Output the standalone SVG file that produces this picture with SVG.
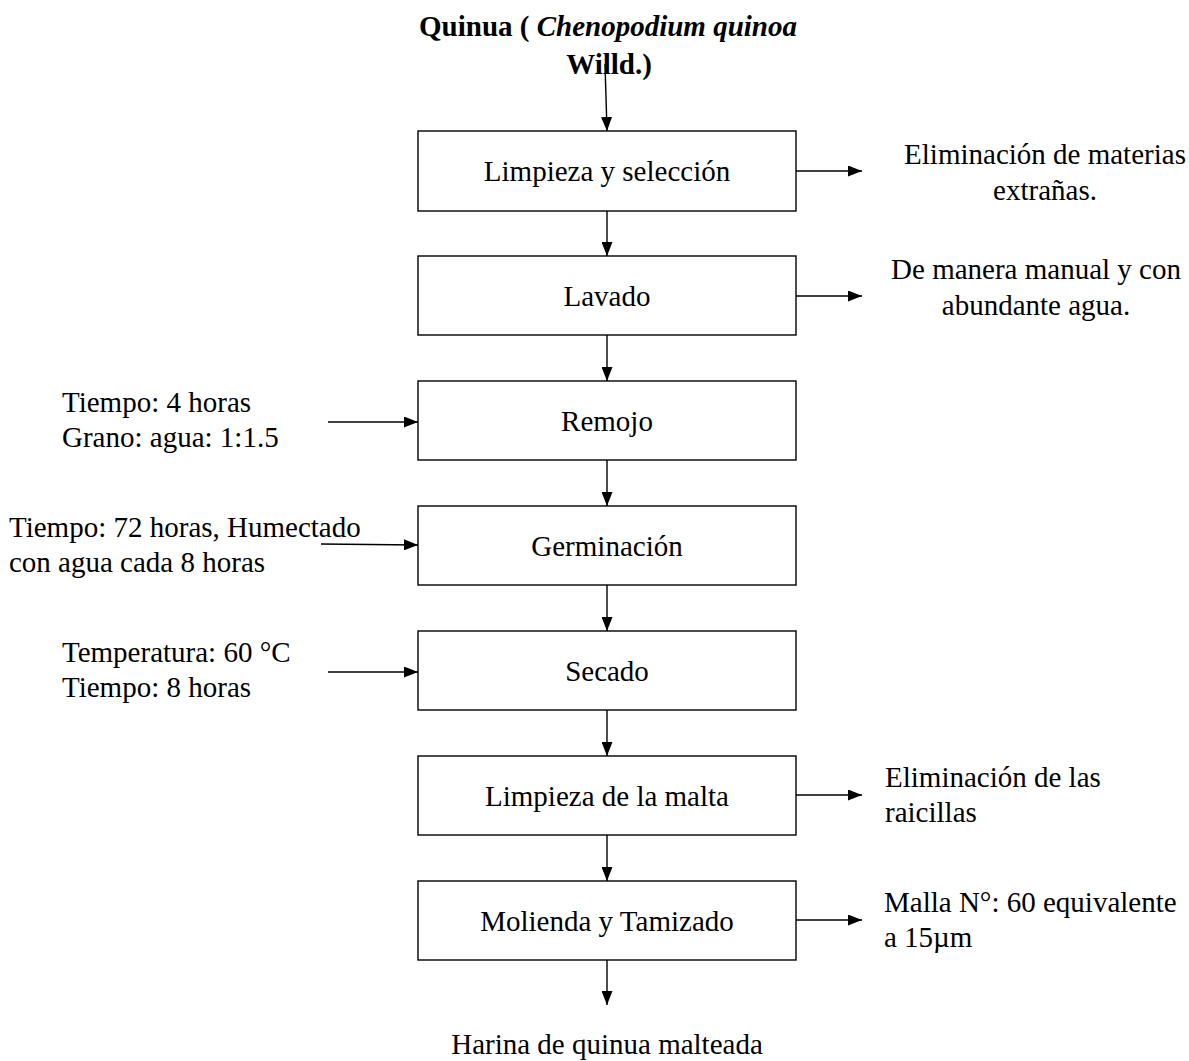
<svg xmlns="http://www.w3.org/2000/svg" width="1189" height="1061" viewBox="0 0 1189 1061">
<style>
  text { font-family: "Liberation Serif", "Times New Roman", serif; font-size: 29px; fill: #000; }
  .c { text-anchor: middle; }
  .t { font-weight: bold; font-size: 29px; }
  .box { fill: #fff; stroke: #000; stroke-width: 1.4; }
  .ln { stroke: #000; stroke-width: 1.4; fill: none; marker-end: url(#ah); }
</style>
<defs>
  <marker id="ah" viewBox="0 0 14 11" refX="14" refY="5.5" markerWidth="14" markerHeight="11" markerUnits="userSpaceOnUse" orient="auto">
    <path d="M0,0 L14,5.5 L0,11 Z" fill="#000"/>
  </marker>
</defs>
<rect width="1189" height="1061" fill="#fff"/>

<g id="title">
  <text class="c t" x="608" y="36">Quinua ( <tspan font-style="italic">Chenopodium quinoa</tspan></text>
  <text class="c t" x="609" y="74">Willd.)</text>
</g>

<g id="connectors">
  <line class="ln" x1="605" y1="64" x2="607" y2="131"/>
  <line class="ln" x1="607" y1="211" x2="607" y2="256"/>
  <line class="ln" x1="607" y1="335" x2="607" y2="381"/>
  <line class="ln" x1="607" y1="460" x2="607" y2="506"/>
  <line class="ln" x1="607" y1="585" x2="607" y2="631"/>
  <line class="ln" x1="607" y1="710" x2="607" y2="756"/>
  <line class="ln" x1="607" y1="835" x2="607" y2="881"/>
  <line class="ln" x1="607" y1="960" x2="607" y2="1005"/>
  <line class="ln" x1="796" y1="171" x2="862" y2="171"/>
  <line class="ln" x1="796" y1="296" x2="862" y2="296"/>
  <line class="ln" x1="796" y1="795" x2="862" y2="795"/>
  <line class="ln" x1="796" y1="920" x2="862" y2="920"/>
  <line class="ln" x1="328" y1="422" x2="418" y2="422"/>
  <line class="ln" x1="321" y1="544" x2="418" y2="545"/>
  <line class="ln" x1="328" y1="672" x2="418" y2="672"/>
</g>

<g id="n1"><rect class="box" x="418" y="131" width="378" height="80"/><text class="c" x="607" y="181">Limpieza y selección</text></g>
<g id="n2"><rect class="box" x="418" y="256" width="378" height="79"/><text class="c" x="607" y="306">Lavado</text></g>
<g id="n3"><rect class="box" x="418" y="381" width="378" height="79"/><text class="c" x="607" y="431">Remojo</text></g>
<g id="n4"><rect class="box" x="418" y="506" width="378" height="79"/><text class="c" x="607" y="556">Germinación</text></g>
<g id="n5"><rect class="box" x="418" y="631" width="378" height="79"/><text class="c" x="607" y="681">Secado</text></g>
<g id="n6"><rect class="box" x="418" y="756" width="378" height="79"/><text class="c" x="607" y="806">Limpieza de la malta</text></g>
<g id="n7"><rect class="box" x="418" y="881" width="378" height="79"/><text class="c" x="607" y="931">Molienda y Tamizado</text></g>

<g id="notes">
  <text class="c" x="1045" y="164">Eliminación de materias</text>
  <text class="c" x="1045" y="200">extrañas.</text>
  <text class="c" x="1036" y="279">De manera manual y con</text>
  <text class="c" x="1036" y="315">abundante agua.</text>
  <text x="62" y="412">Tiempo: 4 horas</text>
  <text x="62" y="447">Grano: agua: 1:1.5</text>
  <text x="9" y="537">Tiempo: 72 horas, Humectado</text>
  <text x="9" y="572">con agua cada 8 horas</text>
  <text x="62" y="662">Temperatura: 60 °C</text>
  <text x="62" y="697">Tiempo: 8 horas</text>
  <text x="885" y="787">Eliminación de las</text>
  <text x="885" y="822">raicillas</text>
  <text x="884" y="912">Malla N°: 60 equivalente</text>
  <text x="884" y="947">a 15µm</text>
  <text class="c" x="607" y="1054">Harina de quinua malteada</text>
</g>
</svg>
